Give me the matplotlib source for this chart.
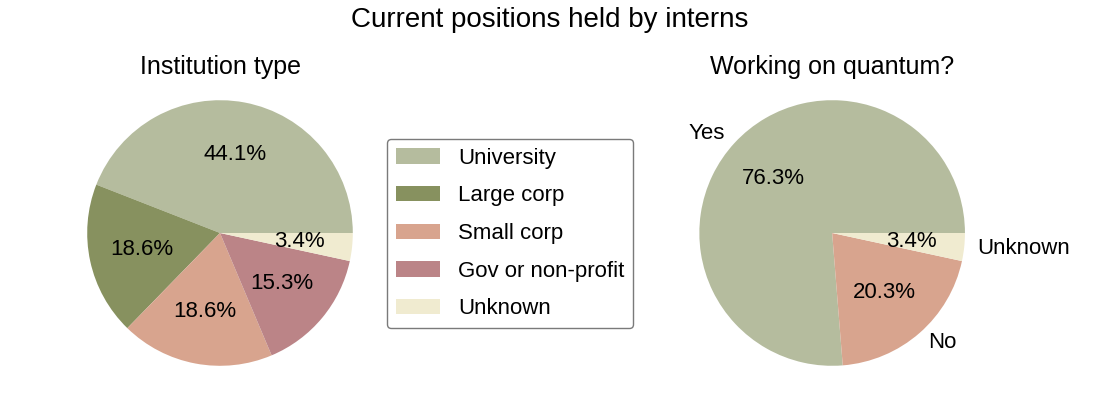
import matplotlib.pyplot as plt

plt.rcParams['font.family'] = ['Liberation Sans', 'DejaVu Sans']

# Data: counts of interns (59 total)
inst_labels = ['University', 'Large corp', 'Small corp', 'Gov or non-profit', 'Unknown']
inst_counts = [26, 11, 11, 9, 2]
inst_colors = ['#b5bc9e', '#87915f', '#d8a48e', '#bb8487', '#f0ebd0']

quantum_labels = ['Yes', 'No', 'Unknown']
quantum_counts = [45, 12, 2]
quantum_colors = ['#b5bc9e', '#d8a48e', '#f0ebd0']

fig = plt.figure(figsize=(11, 4), dpi=100)

# left pie: institution type
ax1 = fig.add_axes([0.049, 0.0025, 0.302, 0.83])
wedges, texts, autotexts = ax1.pie(inst_counts, colors=inst_colors,
                                   autopct='%1.1f%%', textprops={'fontsize': 16})
ax1.set_title('Institution type', fontsize=18, y=0.98, pad=0)

# right pie: working on quantum
ax2 = fig.add_axes([0.6055, 0.0025, 0.302, 0.83])
ax2.pie(quantum_counts, labels=quantum_labels, colors=quantum_colors,
        autopct='%1.1f%%', textprops={'fontsize': 16})
ax2.set_title('Working on quantum?', fontsize=18, y=0.98, pad=0)

# legend in the middle
leg = fig.legend(wedges, inst_labels, loc='center', bbox_to_anchor=(0.4636, 0.416),
                 fontsize=16, frameon=True, labelspacing=0.75)
leg.get_frame().set_edgecolor('0.35')

fig.suptitle('Current positions held by interns', fontsize=20, y=0.982)

plt.savefig('out.png', dpi=100)
